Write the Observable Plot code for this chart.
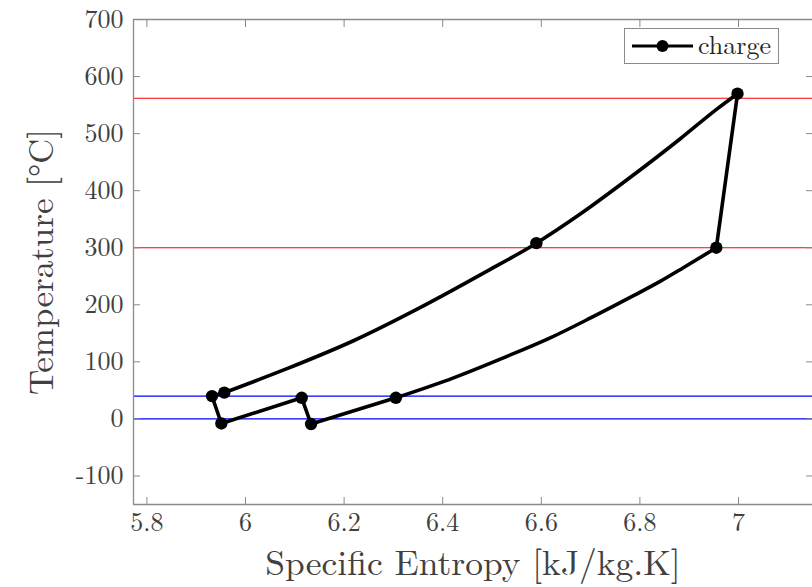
<!DOCTYPE html>
<html>
<head>
<meta charset="utf-8">
<script src="https://cdn.jsdelivr.net/npm/d3@7"></script>
<script src="https://cdn.jsdelivr.net/npm/@observablehq/plot@0.6"></script>
<style>
  html, body { margin: 0; padding: 0; background: #fff; }
  #wrap { position: relative; width: 812px; height: 587px; overflow: hidden; }
  #chart svg text { font-family: "Latin Modern Roman", "Liberation Serif", serif; }
  #legend {
    position: absolute; left: 624px; top: 28px; width: 155px; height: 36px;
    box-sizing: border-box; border: 1px solid #8a8a8a; background: #fff;
    font-family: "Latin Modern Roman", "Liberation Serif", serif; font-size: 26px; color: #262626;
    display: flex; align-items: center;
  }
  #legend svg { margin-left: 6px; }
  #legend span { margin-left: 4px; line-height: 1; position: relative; top: -2px; }
</style>
</head>
<body>
<div id="wrap">
  <div id="chart"></div>
  <div id="legend">
    <svg width="63" height="20"><line x1="1" y1="10" x2="62" y2="10" stroke="#000" stroke-width="3"/><circle cx="31.5" cy="10" r="6" fill="#000"/></svg>
    <span>charge</span>
  </div>
</div>
<script>
// State points of the charge cycle (entropy kJ/kg.K, temperature °C)
const stateS = [5.932, 5.951, 6.114, 6.133, 6.305, 6.955, 6.998, 6.590, 5.957];
const stateT = [40, -8, 37, -9, 37, 300, 570, 308, 46];

// Straight legs (a→c→d→e→f), (h→i), (b→a)
const leg1S = [5.932, 5.951, 6.114, 6.133, 6.305];
const leg1T = [40, -8, 37, -9, 37];
const leg2S = [6.955, 6.998];
const leg2T = [300, 570];
const leg3S = [5.957, 5.932];
const leg3T = [46, 40];

// Lower curve (f → h)
const lowerS = [6.305, 6.422, 6.523, 6.618, 6.700, 6.787, 6.841, 6.888, 6.955];
const lowerT = [37, 72, 107, 142, 177, 216, 241, 265, 300];

// Upper curve (b → g → i)
const upperS = [5.957, 6.084, 6.219, 6.354, 6.490, 6.590, 6.679, 6.780, 6.882, 6.956, 6.998];
const upperT = [46, 88, 137, 195, 259, 308, 359, 423, 491, 543, 570];

// Reference temperature lines
const redLines = [562, 300];
const blueLines = [40, 0];

// Axis ticks
const xTicks = [5.8, 6.0, 6.2, 6.4, 6.6, 6.8, 7.0];
const yTicks = [-100, 0, 100, 200, 300, 400, 500, 600, 700];
const xDomain = [5.7728, 7.1501];
const yDomain = [-150, 700];

const pts = (S, T) => S.map((s, i) => ({s, t: T[i]}));

const axisColor = "#8a8a8a";
const textColor = "#404040";
const font = "Latin Modern Roman";

const chart = Plot.plot({
  width: 812,
  height: 587,
  marginLeft: 133,
  marginRight: 0,
  marginTop: 19,
  marginBottom: 83,
  style: "font-family: 'Latin Modern Roman', 'Liberation Serif', serif; background: #fff; color: #404040; overflow: visible;",
  x: {domain: xDomain},
  y: {domain: yDomain},
  marks: [
    Plot.ruleY(redLines, {stroke: "#ff0000", strokeWidth: 1.2}),
    Plot.ruleY(blueLines, {stroke: "#0000ff", strokeWidth: 1.2}),
    // frame (left, bottom, top)
    Plot.ruleY([yDomain[0], yDomain[1]], {stroke: axisColor, strokeWidth: 1.3}),
    Plot.ruleX([xDomain[0]], {stroke: axisColor, strokeWidth: 1.3}),
    // tick labels
    Plot.axisX(xTicks, {anchor: "bottom", tickSize: 0, tickPadding: 8, tickFormat: d => String(+d.toFixed(1)), label: null, fill: textColor, fontSize: 26, fontFamily: font}),
    Plot.axisY(yTicks, {anchor: "left", tickSize: 0, tickPadding: 10, tickFormat: d => String(d), label: null, fill: textColor, fontSize: 26, fontFamily: font}),
    // inward ticks on all sides
    Plot.axisX(xTicks, {anchor: "bottom", tickSize: -7, fill: "none", stroke: axisColor, label: null}),
    Plot.axisX(xTicks, {anchor: "top", tickSize: -7, fill: "none", stroke: axisColor, label: null}),
    Plot.axisY(yTicks, {anchor: "left", tickSize: -7, fill: "none", stroke: axisColor, label: null}),
    Plot.axisY(yTicks, {anchor: "right", tickSize: -7, fill: "none", stroke: axisColor, label: null}),
    // cycle lines
    Plot.line(pts(leg1S, leg1T), {x: "s", y: "t", stroke: "#000", strokeWidth: 3.6, strokeLinejoin: "round"}),
    Plot.line(pts(leg2S, leg2T), {x: "s", y: "t", stroke: "#000", strokeWidth: 3.6}),
    Plot.line(pts(leg3S, leg3T), {x: "s", y: "t", stroke: "#000", strokeWidth: 3.6}),
    Plot.line(pts(lowerS, lowerT), {x: "s", y: "t", stroke: "#000", strokeWidth: 3.6, curve: "monotone-x"}),
    Plot.line(pts(upperS, upperT), {x: "s", y: "t", stroke: "#000", strokeWidth: 3.6, curve: "monotone-x"}),
    Plot.dot(pts(stateS, stateT), {x: "s", y: "t", r: 6.2, fill: "#000", stroke: null}),
    // axis titles
    Plot.text(["Specific Entropy [kJ/kg.K]"], {frameAnchor: "bottom", textAnchor: "middle", dy: 70, fontSize: 35.5, fill: textColor, fontFamily: font}),
    Plot.text(["Temperature [°C]"], {frameAnchor: "left", textAnchor: "middle", dx: -92, rotate: -90, fontSize: 35, fill: textColor, fontFamily: font})
  ]
});
document.getElementById("chart").appendChild(chart);
</script>
</body>
</html>
